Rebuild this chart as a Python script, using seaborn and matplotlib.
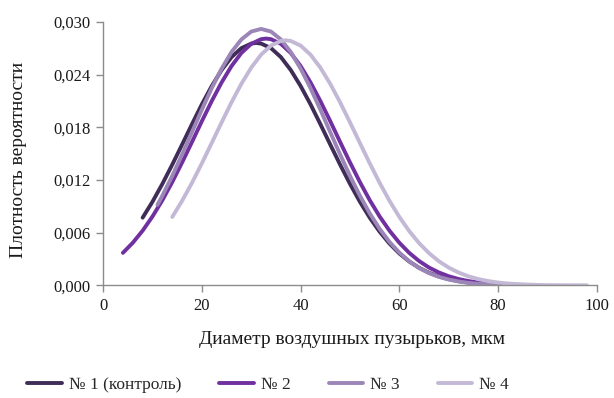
import numpy as np
import pandas as pd
import matplotlib
matplotlib.use("Agg")
import matplotlib.pyplot as plt
import seaborn as sns
from matplotlib.ticker import FuncFormatter

# ---- data ----
series_names = ["№ 1 (контроль)", "№ 2", "№ 3", "№ 4"]

x1 = [8, 10, 12, 14, 16, 18, 20, 22, 24, 26, 28, 30, 31, 32, 34, 36, 38, 40, 42, 44,
      46, 48, 50, 52, 54, 56, 58, 60, 62, 64, 66, 68, 70, 72, 74, 76, 78]
y1 = [0.00771, 0.00953, 0.01156, 0.01375, 0.01604, 0.01836, 0.02062, 0.02270, 0.02452,
      0.02599, 0.02701, 0.02753, 0.02760, 0.02753, 0.02701, 0.02599, 0.02452, 0.02270,
      0.02062, 0.01836, 0.01604, 0.01375, 0.01156, 0.00953, 0.00771, 0.00612, 0.00476,
      0.00363, 0.00272, 0.00200, 0.00144, 0.00102, 0.00071, 0.00048, 0.00032, 0.00021,
      0.00013]

x2 = [4, 6, 8, 10, 12, 14, 16, 18, 20, 22, 24, 26, 28, 30, 32, 33, 34, 36, 38, 40, 42,
      44, 46, 48, 50, 52, 54, 56, 58, 60, 62, 64, 66, 68, 70, 72, 74, 76, 78, 80, 82, 84]
y2 = [0.00370, 0.00485, 0.00623, 0.00785, 0.00970, 0.01177, 0.01400, 0.01633, 0.01870,
      0.02099, 0.02311, 0.02497, 0.02646, 0.02750, 0.02803, 0.02810, 0.02803, 0.02750,
      0.02646, 0.02497, 0.02311, 0.02099, 0.01870, 0.01633, 0.01400, 0.01177, 0.00970,
      0.00785, 0.00623, 0.00485, 0.00370, 0.00277, 0.00203, 0.00147, 0.00104, 0.00072,
      0.00049, 0.00033, 0.00021, 0.00014, 0.00009, 0.00005]

x3 = [11, 12, 14, 16, 18, 20, 22, 24, 26, 28, 30, 32, 34, 36, 38, 40, 42, 44, 46, 48,
      50, 52, 54, 56, 58, 60, 62, 64, 66, 68, 70, 72, 74, 76, 78, 80]
y3 = [0.00917, 0.01022, 0.01247, 0.01491, 0.01745, 0.02001, 0.02246, 0.02468, 0.02657,
      0.02800, 0.02890, 0.02920, 0.02890, 0.02800, 0.02657, 0.02468, 0.02246, 0.02001,
      0.01745, 0.01491, 0.01247, 0.01022, 0.00820, 0.00644, 0.00495, 0.00373, 0.00275,
      0.00198, 0.00140, 0.00097, 0.00066, 0.00044, 0.00028, 0.00018, 0.00011, 0.00007]

x4 = [14, 16, 18, 20, 22, 24, 26, 28, 30, 32, 34, 36, 37, 38, 40, 42, 44, 46, 48, 50,
      52, 54, 56, 58, 60, 62, 64, 66, 68, 70, 72, 74, 76, 78, 80, 82, 84, 86, 88, 90,
      92, 94, 96, 98]
y4 = [0.00779, 0.00963, 0.01168, 0.01390, 0.01622, 0.01856, 0.02084, 0.02295, 0.02479,
      0.02627, 0.02730, 0.02783, 0.02790, 0.02783, 0.02730, 0.02627, 0.02479, 0.02295,
      0.02084, 0.01856, 0.01622, 0.01390, 0.01168, 0.00963, 0.00779, 0.00618, 0.00481,
      0.00367, 0.00275, 0.00202, 0.00146, 0.00103, 0.00071, 0.00049, 0.00032, 0.00021,
      0.00014, 0.00009, 0.00005, 0.00003, 0.00002, 0.00001, 0.00001, 0.000004]

colors = ["#3f2d58", "#7030a0", "#9c86b8", "#c3b9d6"]

x_ticks = [0, 20, 40, 60, 80, 100]
y_ticks = [0.000, 0.006, 0.012, 0.018, 0.024, 0.030]

x_label = "Диаметр воздушных пузырьков, мкм"
y_label = "Плотность вероятности"

# ---- build table ----
frames = []
for name, xs, ys in zip(series_names, [x1, x2, x3, x4], [y1, y2, y3, y4]):
    frames.append(pd.DataFrame({"x": xs, "y": ys, "series": name}))
df = pd.concat(frames, ignore_index=True)

sns.set_theme(style="white")
plt.rcParams["font.family"] = ["Liberation Serif", "DejaVu Serif"]

fig = plt.figure(figsize=(6.14, 3.98), dpi=100)
ax = fig.add_axes([0.168, 0.283, 0.804, 0.662])

sns.lineplot(data=df, x="x", y="y", hue="series", hue_order=series_names,
             palette=colors, sort=False, estimator=None, linewidth=2.8, ax=ax,
             legend=True)
for line in ax.get_lines():
    line.set_solid_capstyle("round")

ax.set_xlim(0, 100)
ax.set_ylim(0, 0.030)
ax.set_xticks(x_ticks)
ax.set_yticks(y_ticks)
ax.yaxis.set_major_formatter(FuncFormatter(lambda v, p: f"{v:.3f}".replace(".", ",")))
ax.xaxis.set_major_formatter(FuncFormatter(lambda v, p: f"{v:.0f}"))

for s in ["top", "right"]:
    ax.spines[s].set_visible(False)
for s in ["left", "bottom"]:
    ax.spines[s].set_color("#8c8c8c")
    ax.spines[s].set_linewidth(1.0)

ax.tick_params(axis="both", which="major", direction="out", length=5, width=1.0,
               color="#8c8c8c", labelsize=12, labelcolor="#1a1a1a", pad=4,
               left=True, bottom=True)

ax.set_xlabel(x_label, fontsize=14, color="#1a1a1a")
ax.set_ylabel(y_label, fontsize=14, color="#1a1a1a")
ax.xaxis.set_label_coords(0.504, -0.172)
ax.yaxis.set_label_coords(-0.155, 0.475)

handles, labels = ax.get_legend_handles_labels()
ax.get_legend().remove()
fig.legend(handles=handles, labels=labels, loc="center",
           bbox_to_anchor=(0.437, 0.033), ncol=4, frameon=False,
           fontsize=12.5, handlelength=2.0, columnspacing=2.18, handletextpad=0.4)

fig.savefig("out.png", dpi=100)
